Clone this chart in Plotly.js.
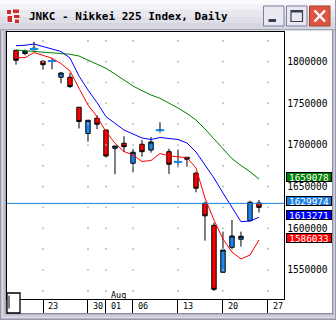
<!DOCTYPE html>
<html><head><meta charset="utf-8">
<script src="https://cdn.plot.ly/plotly-3.0.1.min.js"></script>
<style>html,body{margin:0;padding:0;background:#fff;}#chart{width:336px;height:320px;}</style>
</head><body><div id="chart"></div>
<script>
const days = ['Jul 18','Jul 19','Jul 20','Jul 23','Jul 24','Jul 25','Jul 26','Jul 27','Jul 30','Jul 31',
  'Aug 01','Aug 02','Aug 03','Aug 06','Aug 07','Aug 08','Aug 09','Aug 10','Aug 13','Aug 14',
  'Aug 15','Aug 16','Aug 17','Aug 20','Aug 21','Aug 22','Aug 23','Aug 24'];
const openV  = [1813700,1809800,1814300,1800500,1800500,1781300,1781300,1745300,1713800,1732100,
  1718000,1696100,1702100,1678100,1700900,1694000,1717400,1692000,1679500,1682900,
  1666100,1630100,1603600,1547200,1577200,1586900,1609200,1630500];
const highV  = [1814000,1814600,1824000,1802000,1804000,1787600,1786400,1745600,1730000,1735700,
  1718000,1698800,1710500,1695200,1706000,1709600,1727300,1695600,1694600,1685300,
  1668000,1632000,1606800,1596000,1610000,1596000,1633200,1634000];
const lowV   = [1796400,1807700,1813700,1790400,1790900,1774100,1768400,1719800,1704000,1719200,
  1685000,1665000,1691600,1667300,1686000,1690800,1714800,1665200,1673300,1674000,
  1643300,1585200,1524800,1547200,1574800,1578000,1608500,1619000];
const closeV = [1801700,1812500,1816100,1796400,1801000,1786400,1770200,1728200,1729700,1724900,
  1686800,1698800,1698000,1691300,1692000,1703600,1718000,1676900,1680000,1685300,
  1648100,1615000,1526800,1574000,1590800,1590500,1631300,1625200];
const maRed   = [1804800,1804800,1811000,1807700,1804100,1797800,1788800,1768100,1748000,1734000,
  1716000,1702100,1692200,1688000,1680200,1681400,1689800,1686800,1686000,1684800,
  1672400,1636400,1610000,1587200,1571600,1563200,1568000,1586033];
const maBlue  = [1819200,1819700,1821200,1818200,1815200,1812200,1804400,1782800,1766000,1751000,
  1734000,1726000,1718000,1713200,1708400,1706600,1709000,1707800,1706600,1702400,
  1691600,1676000,1660400,1642400,1625600,1608000,1608800,1613271];
const maGreen = [1814000,1813200,1812600,1811900,1811000,1810200,1808900,1806800,1802000,1797200,
  1792100,1785200,1778000,1770800,1765200,1760000,1756100,1750400,1744400,1737800,
  1730000,1719200,1707200,1695200,1683600,1675400,1668000,1659078];
const lastPrice = 1629974;
const xTickIdx  = [3,8,10,13,18,23,28];
const xTickText = ['23','30','01','06','13','20','27'];
const monthIdx = 10, monthText = 'Aug';
const yLabelVals = [1550000,1600000,1650000,1700000,1750000,1800000];
const yGridVals = [1525000,1550000,1575000,1600000,1625000,1650000,1675000,1700000,1725000,1750000,1775000,1800000,1825000];
const titleText = 'JNKC - Nikkei 225 Index, Daily';

const W = 336, H = 320, L = 7, R = 52, T = 32, B = 21;
const PW = W - L - R, PH = H - T - B;
const px = x => (x - L) / PW;
const py = y => (H - B - y) / PH;
const mono = 'DejaVu Sans Mono';
const xs = days.map((d, i) => i);

const dojiIdx = xs.filter(i => Math.abs(closeV[i] - openV[i]) < 2000);
// dotted grid: dots where the date grid meets the price grid
const gridX = [], gridY = [];
xTickIdx.forEach(k => yGridVals.forEach(v => { gridX.push(k); gridY.push(v); }));

const traces = [
  {type: 'scatter', mode: 'markers', x: gridX, y: gridY, marker: {symbol: 'square', size: 1.6, color: '#b4b4b4', line: {width: 0}},
   hoverinfo: 'skip', showlegend: false, cliponaxis: true},
  {type: 'candlestick', x: xs, open: openV, high: highV, low: lowV, close: closeV,
   increasing: {line: {color: '#000', width: 1}, fillcolor: '#1a86f0'},
   decreasing: {line: {color: '#000', width: 1}, fillcolor: '#ff0000'},
   whiskerwidth: 0, hoverinfo: 'skip', showlegend: false},
  {type: 'scatter', mode: 'markers', x: dojiIdx, y: dojiIdx.map(i => (openV[i] + closeV[i]) / 2),
   marker: {symbol: 'line-ew', size: 6, line: {color: '#1a86f0', width: 2}}, hoverinfo: 'skip', showlegend: false},
  {type: 'scatter', mode: 'lines', x: xs, y: maGreen, line: {color: '#008000', width: 1}, hoverinfo: 'skip', showlegend: false},
  {type: 'scatter', mode: 'lines', x: xs, y: maBlue, line: {color: '#0000ff', width: 1}, hoverinfo: 'skip', showlegend: false},
  {type: 'scatter', mode: 'lines', x: xs, y: maRed, line: {color: '#ff0000', width: 1}, hoverinfo: 'skip', showlegend: false}
];

function rect(x0, y0, x1, y1, fill, line, lw, layer) {
  return {type: 'rect', xref: 'paper', yref: 'paper', x0: px(x0), x1: px(x1), y0: py(y1), y1: py(y0),
    fillcolor: fill, line: {color: line || 'rgba(0,0,0,0)', width: lw || 0}, layer: layer || 'below'};
}
function seg(x0, y0, x1, y1, color, lw, layer) {
  return {type: 'line', xref: 'paper', yref: 'paper', x0: px(x0), x1: px(x1), y0: py(y0), y1: py(y1),
    line: {color: color, width: lw}, layer: layer || 'above'};
}

const shapes = [
  // title bar gradient
  rect(0, 0, 336, 4, '#fafafd'), rect(0, 4, 336, 10, '#f1f1f6'), rect(0, 10, 336, 17, '#e8e8ef'),
  rect(0, 17, 336, 23, '#dfdfe8'), rect(0, 23, 336, 29, '#d6d6e0'), rect(0, 29, 336, 30.5, '#a4a4b8'),
  // inner white area
  rect(7, 30.5, 332, 313, '#ffffff'),
  // left frame stripes
  rect(0, 30.5, 1.5, 320, '#9898aa'), rect(1.5, 30.5, 3.5, 320, '#dcdce6'), rect(3.5, 30.5, 5.5, 320, '#bcbccc'), rect(5.5, 30.5, 7, 313, '#8c8ca2'),
  // right frame
  rect(332, 30.5, 333.5, 320, '#8c8ca2'), rect(333.5, 30.5, 335, 320, '#d0d0dc'), rect(335, 0, 336, 320, '#9898aa'),
  // bottom frame
  rect(5.5, 313, 333.5, 314.5, '#8c8ca2'), rect(3.5, 314.5, 335, 316.5, '#c8c8d6'), rect(1.5, 316.5, 335, 318.5, '#dcdce6'), rect(0, 318.5, 336, 320, '#9898aa'),
  // icon
  rect(6, 9, 20, 23, '#f0f0f4'),
  rect(7, 10, 11, 14, '#d42a2a'), rect(13, 9.5, 19, 13, '#d42a2a'), rect(7.5, 16, 12, 22, '#d42a2a'),
  rect(14, 15, 19.5, 18, '#d42a2a'), rect(15, 19.5, 19, 23, '#d42a2a'),
  // minimize button
  {type: 'rect', xref: 'paper', yref: 'paper', x0: px(263.5), x1: px(284), y0: py(26), y1: py(6), fillcolor: '#e9e9f1', line: {color: '#7e7e9c', width: 1}, layer: 'below'},
  rect(268.5, 19, 276, 22, '#3c3c50'),
  // maximize button
  {type: 'rect', xref: 'paper', yref: 'paper', x0: px(286.5), x1: px(307), y0: py(26), y1: py(6), fillcolor: '#e9e9f1', line: {color: '#7e7e9c', width: 1}, layer: 'below'},
  {type: 'rect', xref: 'paper', yref: 'paper', x0: px(291), x1: px(302.5), y0: py(21.5), y1: py(10.5), fillcolor: 'rgba(0,0,0,0)', line: {color: '#3c3c50', width: 1.2}, layer: 'above'},
  rect(291, 10, 302.5, 12.5, '#3c3c50', null, 0, 'above'),
  // close button
  {type: 'rect', xref: 'paper', yref: 'paper', x0: px(309.5), x1: px(330), y0: py(26), y1: py(6), fillcolor: '#dc5540', line: {color: '#a84030', width: 1}, layer: 'below'},
  seg(314.5, 10.5, 325, 21.5, '#ffffff', 2.4), seg(325, 10.5, 314.5, 21.5, '#ffffff', 2.4),
  // last price line
  {type: 'line', xref: 'paper', yref: 'y', x0: 0, x1: 1, y0: lastPrice, y1: lastPrice, line: {color: '#1f7fe0', width: 1}, layer: 'above'},
  // scroll box
  {type: 'rect', xref: 'paper', yref: 'paper', x0: px(7), x1: px(20), y0: py(313), y1: py(293), fillcolor: '#ffffff', line: {color: '#000', width: 1.3}, layer: 'above'},
  seg(9, 295.5, 9, 308.5, '#000', 1)
];

const annotations = [
  {xref: 'paper', yref: 'paper', x: px(27), y: py(16.5), xanchor: 'left', yanchor: 'middle', showarrow: false,
   text: '<b>' + titleText + '</b>', font: {family: mono, size: 11, color: '#000'}},
  {xref: 'x', yref: 'paper', x: monthIdx + 0.33, y: py(295), xanchor: 'left', yanchor: 'middle', showarrow: false,
   text: monthText, font: {family: mono, size: 8.5, color: '#000'}}
];
xTickIdx.forEach((k, i) => annotations.push({xref: 'x', yref: 'paper', x: k + 0.33, y: py(305.5), xanchor: 'left', yanchor: 'middle',
  showarrow: false, text: xTickText[i], font: {family: mono, size: 8.5, color: '#000'}}));
const boxes = [[maGreen[maGreen.length - 1], '#008000'], [lastPrice, '#1f7fe0'], [maBlue[maBlue.length - 1], '#0000ff'], [maRed[maRed.length - 1], '#ff0000']];
boxes.forEach(([v, c]) => annotations.push({xref: 'paper', yref: 'y', x: px(285.5), y: v, xanchor: 'left', yanchor: 'middle', yshift: 2,
  showarrow: false, text: String(v), font: {family: mono, size: 9.4, color: '#fff'}, bgcolor: c, bordercolor: '#000', borderwidth: 1, borderpad: 0,
  width: 44, height: 8}));

const layout = {
  width: W, height: H, margin: {l: L, r: R, t: T, b: B, pad: 0},
  paper_bgcolor: '#c8c8d4', plot_bgcolor: 'rgba(0,0,0,0)',
  showlegend: false, dragmode: false, hovermode: false,
  xaxis: {range: [-1, 29.78], tickvals: xTickIdx, ticktext: xTickIdx.map(() => ''), ticks: 'outside', ticklen: 13, tickcolor: '#000', tickwidth: 1,
    showgrid: false, zeroline: false,
    showline: true, linecolor: '#000', linewidth: 1.3, mirror: true, rangeslider: {visible: false}, fixedrange: true},
  yaxis: {range: [1515200, 1835600], side: 'right', tickvals: yLabelVals, ticktext: yLabelVals.map(v => String(v)),
    ticks: '', showgrid: false, zeroline: false, ticklabelshift: 1.5,
    showline: true, linecolor: '#000', linewidth: 1.3, mirror: true, tickfont: {family: mono, size: 9.6, color: '#000'}, fixedrange: true},
  shapes: shapes, annotations: annotations
};
Plotly.newPlot('chart', traces, layout, {displayModeBar: false, staticPlot: true});
</script></body></html>
